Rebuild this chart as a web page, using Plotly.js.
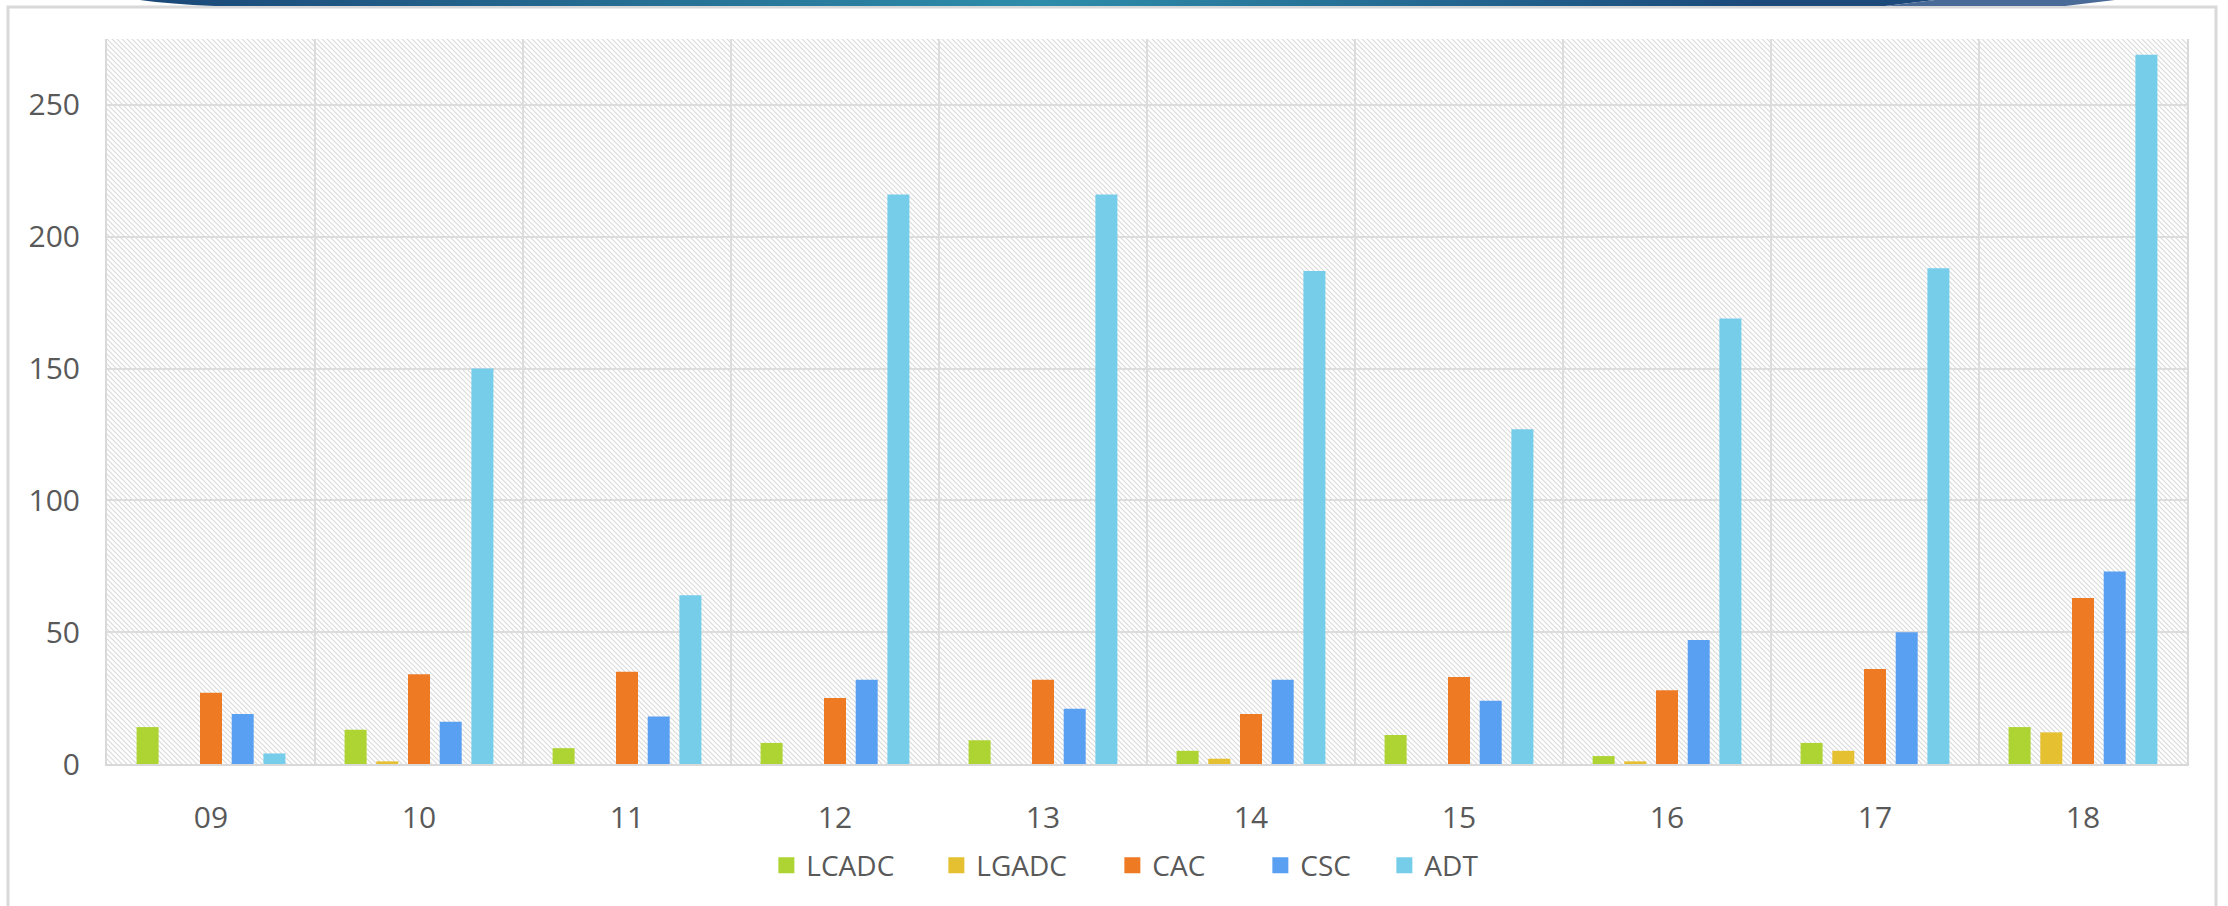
<!DOCTYPE html>
<html>
<head>
<meta charset="utf-8">
<script src="https://cdn.plot.ly/plotly-3.0.1.min.js"></script>
<style>html,body{margin:0;padding:0;background:#fff;}#chart{width:2228px;height:906px;}</style>
</head>
<body>
<div id="chart"></div>
<script>
const categories = ['09','10','11','12','13','14','15','16','17','18'];
const seriesNames = ['LCADC','LGADC','CAC','CSC','ADT'];
const LCADC = [14, 13, 6, 8, 9, 5, 11, 3, 8, 14];
const LGADC = [0, 1, 0, 0, 0, 2, 0, 1, 5, 12];
const CAC   = [27, 34, 35, 25, 32, 19, 33, 28, 36, 63];
const CSC   = [19, 16, 18, 32, 21, 32, 24, 47, 50, 73];
const ADT   = [4, 150, 64, 216, 216, 187, 127, 169, 188, 269];
const yTicks = [0, 50, 100, 150, 200, 250];

const seriesValues = [LCADC, LGADC, CAC, CSC, ADT];
const colors = ['#add432', '#e5c132', '#ee7b24', '#5aa0f2', '#75cdea'];
const legendWidths = [125, 131, 103, 79, 60];
const FONT = 'Open Sans, DejaVu Sans, sans-serif';
const TXT = '#595959';

const traces = [];
seriesNames.forEach((name, i) => {
  traces.push({
    type: 'bar', name: name, x: categories, y: seriesValues[i],
    marker: {color: colors[i], line: {width: 0}},
    showlegend: false, hoverinfo: 'x+y+name'
  });
});
seriesNames.forEach((name, i) => {
  traces.push({
    type: 'scatter', mode: 'markers', name: name, x: [null], y: [null],
    marker: {symbol: 'square', size: 16, color: colors[i]},
    showlegend: true, legendwidth: legendWidths[i], hoverinfo: 'skip'
  });
});

const L = 107, R = 41, T = 39, B = 142;
const W = 2228 - L - R, H = 906 - T - B;

const hatchSvg = "<svg xmlns='http://www.w3.org/2000/svg' width='" + W + "' height='" + H + "' viewBox='0 0 " + W + " " + H + "'>" +
  "<defs><pattern id='h' width='5' height='5' patternUnits='userSpaceOnUse'>" +
  "<path d='M-1,-1L6,6M-1,4L1,6M4,-1L6,1' stroke='#dadada' stroke-width='1.2'/></pattern></defs>" +
  "<rect width='" + W + "' height='" + H + "' fill='url(#h)'/></svg>";

const bannerSvg = "<svg xmlns='http://www.w3.org/2000/svg' width='1980' height='6' viewBox='0 0 1980 6' preserveAspectRatio='none'>" +
  "<defs><linearGradient id='g' x1='0' x2='1' y1='0' y2='0'>" +
  "<stop offset='0' stop-color='#1b4878'/><stop offset='0.5' stop-color='#2e8dab'/><stop offset='0.9' stop-color='#1c4a7b'/></linearGradient></defs>" +
  "<path d='M0,0 L1795,0 L1745,6 L75,6 Q30,4 0,0 Z' fill='url(#g)'/>" +
  "<path d='M1795,0 L1975,0 L1925,6 L1745,6 Z' fill='#4a6b98'/></svg>";

function uri(s) { return 'data:image/svg+xml;charset=utf-8,' + encodeURIComponent(s); }

const layout = {
  width: 2228, height: 906,
  margin: {l: L, r: R, t: T, b: B, pad: 0},
  paper_bgcolor: '#ffffff',
  plot_bgcolor: 'rgba(0,0,0,0)',
  barmode: 'group', bargap: 0.238, bargroupgap: 0.306,
  font: {family: FONT, color: TXT, size: 30},
  xaxis: {
    type: 'category', tickson: 'boundaries', ticks: '',
    showgrid: true, gridcolor: '#dcdcdc', gridwidth: 2,
    showline: true, linecolor: '#d9d9d9', linewidth: 2,
    tickfont: {family: FONT, size: 30, color: TXT},
    ticklabelstandoff: 26, fixedrange: true
  },
  yaxis: {
    range: [0, 275], tickvals: yTicks, ticks: '',
    showgrid: true, gridcolor: '#dcdcdc', gridwidth: 2,
    showline: true, linecolor: '#d9d9d9', linewidth: 2, mirror: true,
    zeroline: false,
    tickfont: {family: FONT, size: 30, color: TXT},
    ticklabelstandoff: 19, fixedrange: true
  },
  legend: {
    orientation: 'h', x: 0.317, xanchor: 'left', y: -0.14, yanchor: 'middle',
    font: {family: FONT, size: 28, color: TXT}, bgcolor: 'rgba(0,0,0,0)',
    itemclick: false, itemdoubleclick: false
  },
  images: [
    {source: uri(hatchSvg), xref: 'paper', yref: 'paper', x: 0, y: 1, sizex: 1, sizey: 1,
     xanchor: 'left', yanchor: 'top', sizing: 'stretch', layer: 'below'},
    {source: uri(bannerSvg), xref: 'paper', yref: 'paper',
     x: (140 - L) / W, y: 1 + T / H, sizex: 1980 / W, sizey: 6 / H,
     xanchor: 'left', yanchor: 'top', sizing: 'stretch', layer: 'above'}
  ],
  shapes: [
    {type: 'rect', xref: 'paper', yref: 'paper', layer: 'below',
     x0: (8 - L) / W, x1: (2216 - L) / W, y0: -0.5, y1: (T + H - 7) / H,
     line: {color: '#d9d9d9', width: 3}, fillcolor: 'rgba(0,0,0,0)'}
  ],
  showlegend: true
};

Plotly.newPlot('chart', traces, layout, {displayModeBar: false, staticPlot: false});
</script>
</body>
</html>
